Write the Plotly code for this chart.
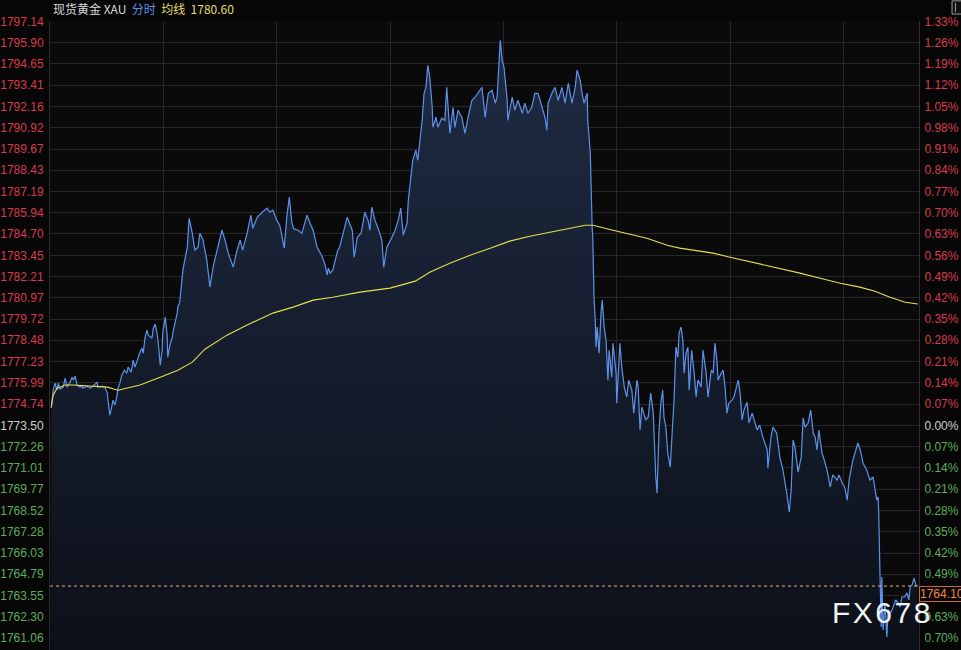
import plotly.graph_objects as go

# ---------------- data ----------------
# minutes since session open (23-hour session = 1380 minutes)
price_minutes = [
    2, 5, 8, 11, 13, 16, 21, 24, 27, 32, 35, 37, 40, 43, 48, 51, 52, 59, 64, 68,
    75, 76, 83, 87, 91, 92, 95, 98, 100, 103, 106, 108, 111, 114, 118, 122, 124, 129, 132, 135,
    140, 143, 146, 148, 151, 154, 156, 162, 164, 167, 170, 172, 175, 178, 179, 183, 186, 187, 191, 194,
    195, 199, 202, 203, 206,
    211, 218, 221, 226, 230, 235, 238, 243, 249, 254, 259, 265, 273, 278, 283, 291, 297, 302, 306, 313,
    319, 322, 329, 337, 345, 349, 354, 360, 365, 372, 376, 380, 384, 387, 394, 400, 408, 413, 418, 424,
    432, 437, 440, 442, 445, 449, 457, 460, 465, 472, 475, 480, 483, 488, 494, 500, 505, 508, 511, 516,
    521, 527, 530, 535, 543, 548, 553, 557, 561, 567, 569, 572,
    576, 581, 584, 591, 594, 597, 600, 603, 607, 608, 613, 616, 622, 627, 630, 635, 640, 643, 648, 654,
    659, 664, 670, 675, 680, 686, 691, 696, 702, 707, 710, 715, 718, 721, 726, 727, 734, 738, 743, 750,
    754, 759, 765, 770, 775, 781, 786, 789, 791, 797, 802, 807, 813, 818, 823, 829, 834, 837, 842, 845,
    848, 853, 854, 858, 859, 861, 862, 864, 866, 867, 869, 872, 875, 877, 880, 883, 886, 888, 892, 894,
    899, 900, 905, 908, 912, 916, 919, 924, 927, 932, 934, 937, 940, 943, 946, 950, 954, 958, 959, 962,
    964, 967, 970, 973, 975, 978, 981, 985, 988, 991, 994, 997, 999, 1002, 1005, 1007, 1010, 1013, 1015, 1019,
    1023, 1026, 1029, 1034, 1037, 1042, 1045, 1050, 1053, 1056, 1059, 1061, 1066, 1069, 1072, 1075, 1078, 1083, 1086, 1089,
    1093, 1096, 1099, 1102, 1107, 1110, 1115, 1123, 1127, 1132, 1139, 1140, 1145, 1148, 1154, 1159, 1164, 1170, 1174, 1177,
    1180, 1183, 1188, 1193, 1196, 1199, 1204, 1208, 1212, 1215, 1218, 1221, 1226, 1231, 1235, 1239, 1243, 1250, 1253, 1258,
    1262, 1266, 1269, 1275, 1280, 1283, 1288, 1291, 1297, 1302, 1307, 1310, 1313, 1315, 1316, 1318, 1320, 1321, 1323, 1326,
    1329, 1331, 1335, 1339, 1343, 1347, 1350, 1353, 1357, 1361, 1364, 1366, 1369, 1372, 1375, 1378,
]
price_values = [
    1774.51, 1775.56, 1775.97, 1775.56, 1775.97, 1775.62, 1775.74, 1776.27, 1775.74, 1776.03,
    1776.32, 1776.15, 1776.38, 1775.86, 1775.74, 1775.86, 1775.68, 1775.80, 1775.68, 1775.80,
    1776.03, 1775.74, 1775.80, 1775.74, 1775.39, 1774.98, 1774.10, 1774.57, 1774.98, 1774.69,
    1775.16, 1775.68, 1775.97, 1776.44, 1776.73, 1776.56, 1776.91, 1776.62, 1777.32, 1776.91,
    1777.49, 1777.79, 1778.02, 1777.73, 1778.66, 1779.07, 1778.78, 1778.61, 1779.19, 1779.42,
    1778.90, 1778.31, 1777.03, 1777.90, 1778.90, 1779.83, 1778.78, 1777.49, 1778.31, 1778.61,
    1778.90, 1779.48, 1780.07, 1780.42, 1780.71,
    1782.58, 1783.93, 1785.62, 1784.74, 1783.75, 1783.93, 1784.74, 1784.34, 1783.17, 1781.59,
    1782.76, 1783.75, 1784.92, 1784.34, 1783.58, 1782.76, 1783.75, 1784.34, 1783.75, 1784.74,
    1785.80, 1785.04, 1785.68, 1785.97, 1786.21, 1785.97, 1786.09, 1785.51, 1785.20, 1783.87,
    1785.68, 1786.85, 1785.39, 1785.00, 1784.92, 1784.74, 1785.80, 1785.33, 1784.90, 1783.93,
    1783.40, 1782.87, 1782.29, 1782.70, 1782.41, 1782.58, 1783.75, 1783.93, 1784.63, 1785.68,
    1785.39, 1784.92, 1783.34, 1784.51, 1784.74, 1785.97, 1785.51, 1784.92, 1786.27, 1785.51,
    1785.04, 1784.34, 1782.76, 1783.93, 1784.51, 1784.92, 1785.51, 1786.21, 1784.63, 1785.33,
    1786.67, 1787.67,
    1789.01, 1789.60, 1789.01, 1791.35, 1792.93, 1793.28, 1794.57, 1793.87, 1792.11, 1790.94,
    1791.53, 1790.94, 1791.47, 1791.35, 1793.28, 1790.59, 1792.11, 1790.94, 1791.94, 1791.53,
    1790.59, 1791.53, 1792.52, 1792.70, 1792.99, 1793.28, 1791.53, 1792.93, 1793.11, 1792.35,
    1792.70, 1796.03, 1794.86, 1794.45, 1792.52, 1791.35, 1792.70, 1791.94, 1792.52, 1791.76,
    1792.35, 1791.76, 1792.11, 1792.93, 1792.93, 1792.11, 1791.53, 1790.77, 1792.35, 1792.93,
    1793.28, 1792.52, 1793.28, 1792.35, 1793.52, 1792.35, 1793.28, 1794.28, 1793.69, 1792.93,
    1792.35, 1792.93, 1791.35, 1789.42, 1787.43, 1785.04, 1784.45, 1780.83, 1779.66, 1778.08,
    1779.25, 1777.73, 1780.07, 1780.83, 1779.25, 1778.49, 1776.15, 1777.90, 1776.32, 1778.31,
    1776.56, 1774.80, 1778.31, 1776.91, 1775.74, 1775.16, 1776.15, 1775.56, 1774.22, 1776.15,
    1775.74, 1773.23, 1774.57, 1774.22, 1773.81, 1773.99, 1775.39, 1774.22, 1773.05, 1770.48,
    1769.54, 1773.05, 1774.80, 1775.56, 1773.99, 1773.40, 1771.88, 1771.06, 1773.05, 1774.98,
    1778.08, 1777.49, 1778.90, 1779.25, 1778.49, 1776.56, 1777.73, 1778.08, 1775.56, 1777.90,
    1776.56, 1775.16, 1776.15, 1775.74, 1777.90, 1776.56, 1775.16, 1776.73, 1776.56, 1778.31,
    1777.32, 1776.15, 1776.56, 1776.73, 1775.74, 1774.22, 1774.80, 1774.98, 1775.16, 1775.56,
    1776.15, 1775.39, 1773.81, 1774.40, 1774.86, 1773.64, 1774.22, 1773.23, 1773.52, 1772.82,
    1772.06, 1771.00, 1772.82, 1773.40, 1773.05, 1771.65, 1770.89, 1769.54, 1768.43, 1769.72,
    1772.64, 1772.23, 1770.77, 1771.65, 1773.93, 1773.40, 1773.64, 1774.40, 1773.05, 1772.82,
    1772.06, 1773.23, 1771.88, 1771.30, 1770.71, 1769.89, 1770.60, 1770.30, 1770.60, 1770.13,
    1769.89, 1769.13, 1770.30, 1771.47, 1772.06, 1772.47, 1771.88, 1771.30, 1770.89, 1770.30,
    1770.48, 1769.89, 1769.13, 1769.31, 1768.37, 1764.87, 1761.71, 1764.63, 1761.53, 1763.11,
    1761.12, 1762.70, 1762.53, 1762.88, 1763.29, 1763.11, 1762.88, 1763.46, 1763.46, 1763.70,
    1763.29, 1764.05, 1764.16, 1764.57, 1764.16, 1764.10,
]

avg_minutes = [
    2, 5, 11, 24, 37, 64, 91, 108, 122, 143, 175, 203, 226, 246, 281, 313, 354, 386, 418, 449,
    492, 540, 580, 603, 635, 667, 699, 730, 762, 794, 826, 850, 862, 873, 894, 948, 980, 1000, 1053, 1080,
    1116, 1159, 1191, 1223, 1255, 1286, 1310, 1334, 1358, 1378,
]
avg_values = [
    1774.57, 1775.27, 1775.68, 1775.86, 1775.86, 1775.80, 1775.74, 1775.56, 1775.68, 1775.86,
    1776.32, 1776.73, 1777.20, 1777.96, 1778.78, 1779.37, 1780.07, 1780.42, 1780.83, 1781.00,
    1781.30, 1781.53, 1781.94, 1782.46, 1782.99, 1783.46, 1783.87, 1784.28, 1784.57, 1784.80,
    1785.04, 1785.21, 1785.21, 1785.10, 1784.92, 1784.45, 1784.04, 1783.87, 1783.58, 1783.34,
    1783.05, 1782.70, 1782.41, 1782.11, 1781.82, 1781.59, 1781.35, 1781.00, 1780.71, 1780.60,
]

prev_close = 1773.50
last_price = 1764.10
last_price_label = "1764.10"
avg_label = "1780.60"

left_tick_values = [
    1797.14, 1795.90, 1794.65, 1793.41, 1792.16, 1790.92, 1789.67, 1788.43, 1787.19, 1785.94,
    1784.70, 1783.45, 1782.21, 1780.97, 1779.72, 1778.48, 1777.23, 1775.99, 1774.74, 1773.50,
    1772.26, 1771.01, 1769.77, 1768.52, 1767.28, 1766.03, 1764.79, 1763.55, 1762.30, 1761.06,
]
left_tick_labels = [
    "1797.14", "1795.90", "1794.65", "1793.41", "1792.16", "1790.92", "1789.67", "1788.43", "1787.19", "1785.94",
    "1784.70", "1783.45", "1782.21", "1780.97", "1779.72", "1778.48", "1777.23", "1775.99", "1774.74", "1773.50",
    "1772.26", "1771.01", "1769.77", "1768.52", "1767.28", "1766.03", "1764.79", "1763.55", "1762.30", "1761.06",
]
right_tick_labels = [
    "1.33%", "1.26%", "1.19%", "1.12%", "1.05%", "0.98%", "0.91%", "0.84%", "0.77%", "0.70%",
    "0.63%", "0.56%", "0.49%", "0.42%", "0.35%", "0.28%", "0.21%", "0.14%", "0.07%", "0.00%",
    "0.07%", "0.14%", "0.21%", "0.28%", "0.35%", "0.42%", "0.49%", "0.56%", "0.63%", "0.70%",
]
session_minutes = 1380
grid_minutes = [0, 180, 360, 540, 720, 900, 1080, 1260]

# ---------------- styling ----------------
RED = "#d93a50"
GREEN = "#5cae5c"
NEUTRAL = "#cfcfcf"
GRID = "#27272b"
FONT = "Arial, Liberation Sans, sans-serif"


def colored(values, labels):
    out = []
    for v, t in zip(values, labels):
        c = RED if v > prev_close + 1e-6 else (GREEN if v < prev_close - 1e-6 else NEUTRAL)
        out.append('<span style="color:%s">%s</span>' % (c, t))
    return out


y_range = [1760.36, 1797.16]

fig = go.Figure()

fig.add_trace(go.Scatter(
    x=price_minutes, y=price_values, mode="lines",
    line=dict(color="#5e92ea", width=1.2),
    fill="tozeroy",
    fillgradient=dict(type="vertical",
                      colorscale=[[0, "#0c1019"], [1, "#1f2c44"]],
                      start=y_range[0], stop=1797.0),
    hoverinfo="skip", showlegend=False,
))
fig.add_trace(go.Scatter(
    x=avg_minutes, y=avg_values, mode="lines",
    line=dict(color="#e4df4c", width=1.1),
    yaxis="y2", hoverinfo="skip", showlegend=False,
))

fig.add_shape(type="line", xref="paper", x0=0, x1=1, yref="y", y0=last_price, y1=last_price,
              line=dict(color="#e8b27c", width=1, dash="3px,3px"), layer="above")

fig.update_layout(
    width=961, height=650,
    margin=dict(l=50, r=42, t=21, b=0),
    paper_bgcolor="#060606",
    plot_bgcolor="#0a0a0b",
    font=dict(family=FONT, size=12, color=NEUTRAL),
    xaxis=dict(range=[0, session_minutes], tickvals=grid_minutes, showticklabels=False,
               showgrid=True, gridcolor=GRID, gridwidth=1, zeroline=False, ticks=""),
    yaxis=dict(range=y_range, tickvals=left_tick_values,
               ticktext=colored(left_tick_values, left_tick_labels),
               showgrid=True, gridcolor=GRID, gridwidth=1, zeroline=False, ticks="",
               tickfont=dict(size=12, family=FONT), showline=True, linecolor="#2c2c30",
               ticklabelstandoff=3),
    yaxis2=dict(range=y_range, overlaying="y", side="right", tickvals=left_tick_values,
                ticktext=colored(left_tick_values, right_tick_labels),
                showgrid=False, zeroline=False, ticks="",
                tickfont=dict(size=12, family=FONT), showline=True, linecolor="#3a2a2e",
                ticklabelstandoff=2),
)

# header text
fig.add_annotation(
    xref="paper", yref="paper", x=0, y=1, xanchor="left", yanchor="bottom",
    xshift=1, yshift=2, showarrow=False, align="left",
    text=('<span style="color:#dadada">现货黄金 XAU</span>  '
          '<span style="color:#5b8fe4">分时</span>  '
          '<span style="color:#e2dc6a">均线</span>  '
          '<span style="color:#e2dc6a">%s</span>' % avg_label),
    font=dict(family="Noto Sans CJK SC, sans-serif", size=12),
)

# last price box on the right axis
fig.add_annotation(
    xref="paper", yref="y", x=1, y=last_price, xanchor="left", yanchor="top",
    xshift=0, yshift=0, showarrow=False,
    text=last_price_label, font=dict(family=FONT, size=12, color="#f08646"),
    bgcolor="#0a0806", bordercolor="#c8693c", borderwidth=1, borderpad=0,
)

# watermark
fig.add_annotation(
    xref="paper", yref="paper", x=0.956, y=0.06, xanchor="center", yanchor="middle",
    showarrow=False, text="F\u200aX\u200a6\u200a7\u200a8",
    font=dict(family=FONT, size=30, color="#f2f2f2"),
)

# small icon at the top-right corner
fig.add_shape(type="rect", xref="paper", yref="paper", x0=1.038, x1=1.052, y0=1.011, y1=1.032,
              line=dict(color="#9a9a9a", width=1), fillcolor="#111111")
fig.add_shape(type="line", xref="paper", yref="paper", x0=1.042, x1=1.042, y0=1.014, y1=1.029,
              line=dict(color="#9a9a9a", width=1))

fig.write_html(
    "out.html",
    config={"displayModeBar": False},
    post_script="document.body.style.margin='0';document.body.style.overflow='hidden';"
                "document.body.style.background='#060606';",
)
